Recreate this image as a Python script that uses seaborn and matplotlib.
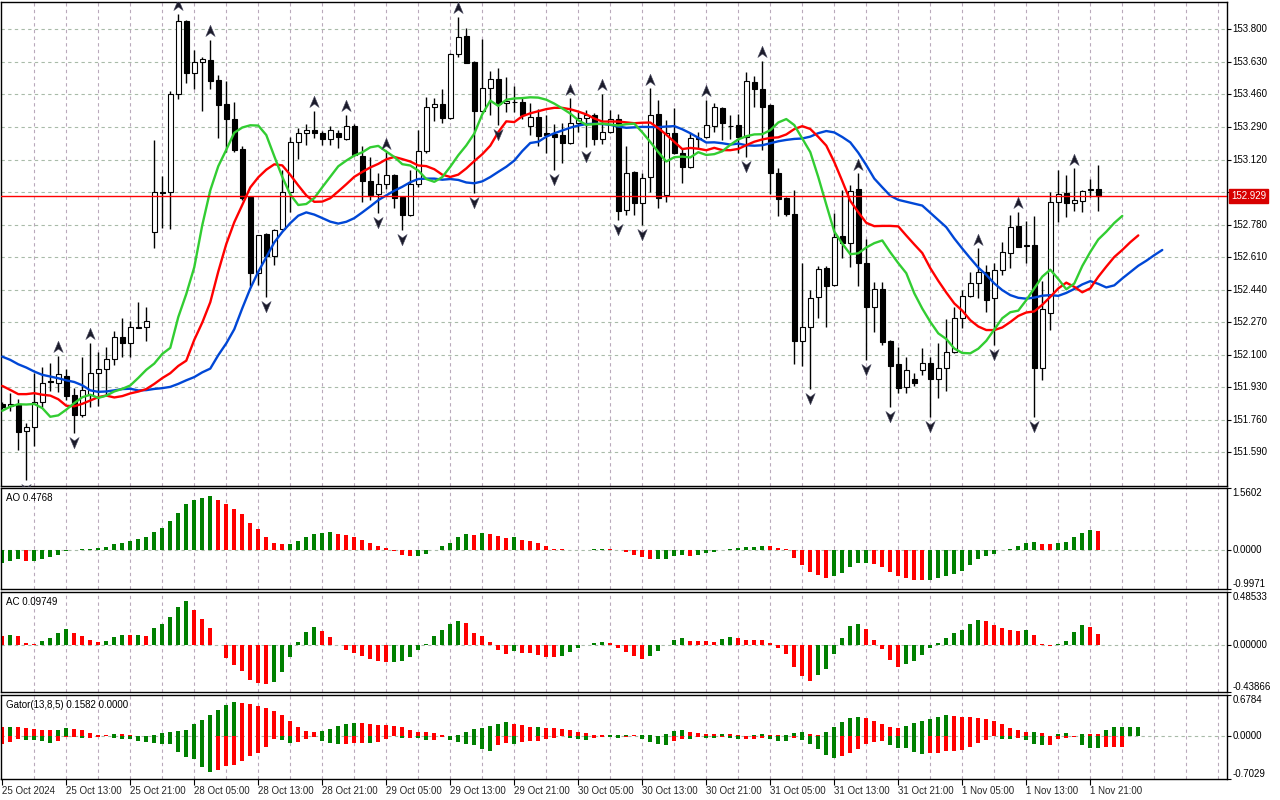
import numpy as np
import matplotlib
matplotlib.use('Agg')
import matplotlib.pyplot as plt
import seaborn as sns
from matplotlib.path import Path
from matplotlib.transforms import blended_transform_factory

sns.set_theme(style='white')
plt.rcParams['font.family'] = ['Liberation Sans', 'DejaVu Sans']

# ---------------- data (hourly bars) ----------------
opens = [151.843, 151.833, 151.840, 151.699, 151.720, 151.855, 151.963, 151.954, 151.989, 151.890,
         151.786, 151.890, 152.003, 152.024, 152.076, 152.191, 152.160, 152.247, 152.243, 152.740,
         152.948, 152.948, 153.460, 153.844, 153.570, 153.629, 153.640, 153.535, 153.408, 153.332,
         153.175, 152.926, 152.529, 152.729, 152.616, 152.759, 152.948, 153.210, 153.257, 153.272,
         153.257, 153.225, 153.257, 153.225, 153.297, 153.138, 153.008, 152.938, 152.990, 153.039,
         152.926, 152.830, 152.990, 153.164, 153.396, 153.408, 153.335, 153.669, 153.765, 153.631,
         153.375, 153.492, 153.542, 153.414, 153.419, 153.422, 153.297, 153.340, 153.257, 153.255,
         153.248, 153.208, 153.309, 153.335, 153.353, 153.225, 153.266, 153.332, 152.856, 153.056,
         152.891, 153.030, 153.358, 152.935, 153.257, 153.152, 153.079, 153.225, 153.239, 153.295,
         153.387, 153.297, 153.298, 153.239, 153.527, 153.488, 153.405, 153.048, 152.917, 152.834,
         152.172, 152.243, 152.400, 152.555, 152.463, 152.721, 152.686, 152.964, 152.578, 152.348,
         152.442, 152.172, 152.050, 151.930, 151.972, 152.021, 152.055, 151.972, 152.029, 152.113,
         152.294, 152.409, 152.477, 152.534, 152.395, 152.543, 152.633, 152.773, 152.672, 152.674,
         152.029, 152.320, 152.896, 152.947, 152.891, 152.905, 152.961, 152.964]
highs = [151.855, 151.899, 151.868, 151.742, 152.003, 152.038, 152.055, 152.093, 152.024, 151.925,
         152.090, 152.163, 152.116, 152.142, 152.226, 152.291, 152.278, 152.374, 152.351, 153.222,
         153.034, 153.478, 153.880, 153.849, 153.692, 153.654, 153.744, 153.561, 153.530, 153.422,
         153.191, 152.930, 152.728, 152.734, 152.759, 153.065, 153.236, 153.283, 153.305, 153.373,
         153.269, 153.295, 153.274, 153.353, 153.304, 153.191, 153.131, 153.048, 153.158, 153.044,
         152.930, 153.065, 153.274, 153.448, 153.440, 153.487, 153.675, 153.866, 153.805, 153.635,
         153.750, 153.582, 153.596, 153.553, 153.504, 153.448, 153.413, 153.382, 153.353, 153.305,
         153.312, 153.440, 153.370, 153.379, 153.361, 153.462, 153.379, 153.358, 153.191, 153.062,
         153.048, 153.492, 153.431, 153.326, 153.387, 153.173, 153.257, 153.266, 153.431, 153.413,
         153.393, 153.353, 153.358, 153.579, 153.556, 153.635, 153.410, 153.074, 152.923, 152.961,
         152.578, 152.438, 152.564, 152.564, 152.839, 152.961, 152.987, 153.048, 152.703, 152.482,
         152.482, 152.177, 152.142, 152.090, 152.007, 152.133, 152.090, 152.160, 152.285, 152.348,
         152.438, 152.534, 152.656, 152.569, 152.578, 152.691, 152.830, 152.848, 152.801, 152.825,
         152.486, 152.952, 153.065, 153.039, 153.074, 152.961, 153.017, 153.091]
lows = [151.815, 151.808, 151.603, 151.446, 151.623, 151.826, 151.913, 151.907, 151.864, 151.690,
        151.777, 151.829, 151.833, 151.882, 152.046, 152.090, 152.090, 152.238, 152.173, 152.660,
        152.764, 152.757, 153.434, 153.521, 153.488, 153.375, 153.488, 153.231, 153.161, 153.161,
        152.909, 152.459, 152.464, 152.404, 152.568, 152.752, 152.848, 153.122, 153.196, 153.231,
        153.196, 153.196, 153.179, 153.222, 153.138, 152.896, 152.909, 152.842, 152.964, 152.869,
        152.752, 152.825, 152.978, 153.152, 153.323, 153.312, 153.330, 153.654, 153.622, 152.943,
        153.370, 153.353, 153.300, 153.370, 153.370, 153.330, 153.248, 153.191, 153.152, 153.065,
        153.100, 153.199, 153.266, 153.187, 153.196, 153.200, 153.260, 152.804, 152.830, 152.830,
        152.778, 152.951, 152.865, 152.900, 153.149, 152.999, 153.074, 153.179, 153.231, 153.266,
        153.222, 153.225, 153.156, 153.135, 153.393, 153.170, 152.940, 152.825, 152.825, 152.050,
        152.043, 151.920, 152.294, 152.243, 152.459, 152.603, 152.560, 152.459, 152.072, 152.221,
        152.151, 151.826, 151.899, 151.902, 151.934, 151.995, 151.777, 151.873, 151.913, 152.108,
        152.238, 152.404, 152.395, 152.325, 152.151, 152.517, 152.552, 152.661, 152.578, 151.777,
        151.968, 152.230, 152.796, 152.822, 152.853, 152.848, 152.926, 152.853]
closes = [151.826, 151.843, 151.698, 151.721, 151.855, 151.951, 151.958, 151.998, 151.885, 151.786,
          151.916, 152.003, 152.024, 152.076, 152.191, 152.160, 152.243, 152.242, 152.278, 152.949,
          152.947, 153.460, 153.844, 153.570, 153.629, 153.643, 153.532, 153.405, 153.330, 153.170,
          152.921, 152.529, 152.724, 152.616, 152.752, 152.949, 153.210, 153.257, 153.272, 153.257,
          153.225, 153.272, 153.236, 153.297, 153.143, 153.008, 152.935, 152.990, 153.039, 152.921,
          152.830, 152.990, 153.164, 153.393, 153.408, 153.335, 153.669, 153.758, 153.626, 153.375,
          153.492, 153.542, 153.410, 153.426, 153.420, 153.353, 153.344, 153.243, 153.246, 153.239,
          153.208, 153.309, 153.335, 153.353, 153.225, 153.266, 153.330, 152.851, 153.051, 152.891,
          153.025, 153.353, 152.921, 153.257, 153.152, 153.079, 153.231, 153.234, 153.298, 153.393,
          153.312, 153.293, 153.236, 153.530, 153.487, 153.396, 153.048, 152.912, 152.834, 152.172,
          152.247, 152.395, 152.546, 152.459, 152.714, 152.682, 152.957, 152.581, 152.351, 152.442,
          152.169, 152.043, 151.928, 152.021, 151.951, 152.055, 151.972, 152.029, 152.113, 152.294,
          152.409, 152.477, 152.534, 152.386, 152.543, 152.639, 152.769, 152.665, 152.668, 152.033,
          152.338, 152.900, 152.938, 152.891, 152.909, 152.957, 152.964, 152.929]

# Alligator line values (before the first visible bar's data takes over)
jaw_start = [152.090, 152.073, 152.050, 152.033, 152.012, 151.995, 151.986, 151.977]
teeth_start = [151.937, 151.916, 151.894, 151.894, 151.899]
lips_start = [151.807, 151.829, 151.841]

fractal_up = [7, 11, 22, 26, 39, 43, 48, 57, 71, 75, 81, 88, 95, 107, 122, 127, 134]
fractal_down = [3, 9, 33, 47, 50, 59, 62, 69, 73, 77, 80, 93, 101, 108, 111, 116, 124, 129]

ao_values = [-0.34, -0.29, -0.25, -0.30, -0.29, -0.25, -0.19, -0.13, -0.03, -0.01,
             0.005, 0.02, 0.03, 0.06, 0.13, 0.18, 0.21, 0.27, 0.31, 0.44,
             0.55, 0.72, 0.93, 1.15, 1.26, 1.31, 1.36, 1.26, 1.16, 1.04,
             0.91, 0.68, 0.51, 0.33, 0.18, 0.13, 0.15, 0.23, 0.33, 0.40,
             0.43, 0.45, 0.40, 0.38, 0.33, 0.25, 0.18, 0.10, 0.03, -0.03,
             -0.13, -0.165, -0.155, -0.10, -0.02, 0.08, 0.18, 0.31, 0.40, 0.38,
             0.43, 0.40, 0.35, 0.305, 0.31, 0.25, 0.21, 0.16, 0.08, 0.025,
             0.005, -0.003, -0.002, 0.0, 0.01, 0.025, 0.02, -0.01, -0.07, -0.13,
             -0.19, -0.25, -0.23, -0.225, -0.15, -0.13, -0.15, -0.13, -0.075, -0.05,
             -0.01, 0.01, 0.05, 0.055, 0.075, 0.10, 0.095, 0.05, 0.01, -0.20,
             -0.38, -0.56, -0.63, -0.73, -0.68, -0.58, -0.43, -0.35, -0.33, -0.355,
             -0.43, -0.56, -0.66, -0.71, -0.76, -0.78, -0.76, -0.73, -0.68, -0.61,
             -0.53, -0.38, -0.25, -0.15, -0.10, -0.005, 0.02, 0.10, 0.18, 0.20,
             0.15, 0.13, 0.18, 0.20, 0.33, 0.43, 0.505, 0.4768]
ac_values = [0.083, 0.09, 0.083, 0.015, 0.006, 0.034, 0.062, 0.11, 0.145, 0.108,
             0.08, 0.043, 0.025, 0.034, 0.071, 0.09, 0.088, 0.09, 0.08, 0.154,
             0.19, 0.256, 0.35, 0.40, 0.32, 0.24, 0.154, -0.003, -0.123, -0.19,
             -0.244, -0.327, -0.355, -0.364, -0.346, -0.253, -0.114, 0.025, 0.117, 0.164,
             0.127, 0.071, -0.003, -0.05, -0.077, -0.105, -0.133, -0.151, -0.162, -0.158,
             -0.15, -0.114, -0.05, 0.005, 0.08, 0.136, 0.19, 0.22, 0.20, 0.108,
             0.08, 0.025, -0.05, -0.086, -0.059, -0.077, -0.078, -0.096, -0.114, -0.115,
             -0.105, -0.068, -0.03, 0.0, 0.015, 0.025, 0.015, -0.03, -0.068, -0.105,
             -0.133, -0.105, -0.059, -0.003, 0.043, 0.062, 0.036, 0.030, 0.028, 0.026,
             0.05, 0.065, 0.06, 0.045, 0.044, 0.043, 0.015, -0.03, -0.086, -0.207,
             -0.29, -0.336, -0.28, -0.225, -0.086, 0.062, 0.173, 0.19, 0.145, 0.043,
             -0.037, -0.142, -0.207, -0.179, -0.151, -0.096, -0.028, 0.015, 0.062, 0.108,
             0.136, 0.19, 0.228, 0.219, 0.182, 0.154, 0.136, 0.127, 0.136, 0.09,
             0.006, -0.018, 0.003, 0.034, 0.117, 0.182, 0.164, 0.09749]

time_labels = ['25 Oct 2024', '25 Oct 13:00', '25 Oct 21:00', '28 Oct 05:00', '28 Oct 13:00',
               '28 Oct 21:00', '29 Oct 05:00', '29 Oct 13:00', '29 Oct 21:00', '30 Oct 05:00',
               '30 Oct 13:00', '30 Oct 21:00', '31 Oct 05:00', '31 Oct 13:00', '31 Oct 21:00',
               '1 Nov 05:00', '1 Nov 13:00', '1 Nov 21:00']
price_ticks = [153.800, 153.630, 153.460, 153.290, 153.120, 152.950, 152.780,
               152.610, 152.440, 152.270, 152.100, 151.930, 151.760, 151.590]
current_price = 152.929

# ---------------- derived series ----------------
o = np.array(opens); h = np.array(highs); l = np.array(lows); c = np.array(closes)
n = len(o)
xi = np.arange(n)
median = (h + l) / 2


def smma_line(start, period, med):
    vals = list(start)
    prev = start[-1]
    for m in med:
        prev = (prev * (period - 1) + m) / period
        vals.append(prev)
    return np.array(vals)


jaw = smma_line(jaw_start, 13, median)      # shifted 8
teeth = smma_line(teeth_start, 8, median)   # shifted 5
lips = smma_line(lips_start, 5, median)     # shifted 3
gator_up = np.abs(jaw[:len(teeth)] - teeth)
gator_dn = -np.abs(teeth[:len(lips)] - lips)

GREEN = '#008000'
RED = '#ff0000'


def trend_colors(vals, first, use_abs=False):
    v = np.abs(vals) if use_abs else np.asarray(vals)
    cols = [first]
    for i in range(1, len(v)):
        if v[i] > v[i - 1]:
            cols.append(GREEN)
        elif v[i] < v[i - 1]:
            cols.append(RED)
        else:
            cols.append(cols[-1])
    return cols


# ---------------- figure layout ----------------
W, H = 1280, 800
fig = plt.figure(figsize=(12.8, 8), dpi=100)
fig.patch.set_facecolor('white')


def make_axes(top, bottom, left=1, right=1227):
    return fig.add_axes([left / W, 1 - bottom / H, (right - left) / W, (bottom - top) / H])


ax_p = make_axes(2, 486)
ax_ao = make_axes(488, 589)
ax_ac = make_axes(592, 692)
ax_g = make_axes(695, 779)
axes = [ax_p, ax_ao, ax_ac, ax_g]

XMIN, XMAX = -0.16, 153.09
VGRID = '#b9a9bb'
HGRID = '#a9bba9'
FS = 7

for ax in axes:
    ax.set_facecolor('white')
    ax.set_xlim(XMIN, XMAX)
    for s in ax.spines.values():
        s.set_color('black')
        s.set_linewidth(1.0)
    for b in range(4, 153, 4):
        ax.axvline(b, color=VGRID, lw=0.8, ls=(0, (3, 3)), zorder=0)
    ax.tick_params(axis='y', left=False, right=True, labelleft=False, labelright=False,
                   length=3, width=0.8, color='black', direction='out')
    ax.tick_params(axis='x', bottom=False, labelbottom=False)
    ax.grid(False)

# ---------------- price panel ----------------
ax_p.set_ylim(151.414, 153.943)
for p in price_ticks:
    ax_p.axhline(p, color=HGRID, lw=0.8, ls=(0, (3, 3)), zorder=0)
ax_p.set_yticks(price_ticks)

ax_p.vlines(xi, l, h, color='black', lw=1.0, zorder=2)
bull = c >= o
body_bottom = np.minimum(o, c)
body_h = np.maximum(np.abs(c - o), 0.002)
ax_p.bar(xi, body_h, bottom=body_bottom, width=0.6,
         color=np.where(bull, 'white', 'black'), edgecolor='black', linewidth=0.8, zorder=3)

sns.lineplot(x=np.arange(len(jaw)), y=jaw, ax=ax_p, color='#0047d6', linewidth=1.7,
             estimator=None, sort=False, zorder=4)
sns.lineplot(x=np.arange(len(teeth)), y=teeth, ax=ax_p, color='#ff0000', linewidth=1.7,
             estimator=None, sort=False, zorder=4)
sns.lineplot(x=np.arange(len(lips)), y=lips, ax=ax_p, color='#32cd32', linewidth=1.7,
             estimator=None, sort=False, zorder=4)

up_path = Path([(0, 1), (0.75, -0.8), (0, -0.25), (-0.75, -0.8), (0, 1)],
               [Path.MOVETO, Path.LINETO, Path.LINETO, Path.LINETO, Path.CLOSEPOLY])
dn_path = Path([(0, -1), (0.75, 0.8), (0, 0.25), (-0.75, 0.8), (0, -1)],
               [Path.MOVETO, Path.LINETO, Path.LINETO, Path.LINETO, Path.CLOSEPOLY])
fu = np.array(fractal_up); fd = np.array(fractal_down)
ax_p.scatter(fu, h[fu] + 0.045, marker=up_path, s=80, color='#1b1b2a',
             edgecolors='#4a4a60', linewidths=0.4, zorder=5, clip_on=True)
ax_p.scatter(fd, l[fd] - 0.047, marker=dn_path, s=80, color='#1b1b2a',
             edgecolors='#4a4a60', linewidths=0.4, zorder=5, clip_on=True)

ax_p.axhline(current_price, color='#ff0000', lw=1.0, zorder=4.5)

tr_p = blended_transform_factory(ax_p.transAxes, ax_p.transData)
for p in price_ticks:
    # the 152.950 label sits underneath the current-price box, as in the terminal
    if abs(p - current_price) < 0.05:
        continue
    ax_p.text(1.0045, p, f'{p:.3f}', transform=tr_p, ha='left', va='center',
              fontsize=FS, color='black', clip_on=False)
ax_p.text(1.0032, current_price, f'{current_price:.3f}', transform=tr_p, ha='left', va='center',
          fontsize=FS, color='white', clip_on=False, zorder=10,
          bbox=dict(boxstyle='square,pad=0.22', fc='#d80000', ec='#d80000'))

# ---------------- AO panel ----------------
ax_ao.set_ylim(-0.9971, 1.5602)
ax_ao.axhline(0, color=HGRID, lw=0.8, ls=(0, (3, 3)), zorder=0)
ax_ao.bar(xi, ao_values, width=0.5, color=trend_colors(ao_values, GREEN), linewidth=0, zorder=2)
ax_ao.set_yticks([1.5602, 0.0, -0.9971])
ax_ao.text(5 / 1226, 1 - 5 / 101, 'AO 0.4768', transform=ax_ao.transAxes, ha='left', va='top',
           fontsize=FS, color='black')

# ---------------- AC panel ----------------
ax_ac.set_ylim(-0.43866, 0.48533)
ax_ac.axhline(0, color=HGRID, lw=0.8, ls=(0, (3, 3)), zorder=0)
ax_ac.bar(xi, ac_values, width=0.5, color=trend_colors(ac_values, RED), linewidth=0, zorder=2)
ax_ac.set_yticks([0.48533, 0.0, -0.43866])
ax_ac.text(5 / 1226, 1 - 5 / 100, 'AC 0.09749', transform=ax_ac.transAxes, ha='left', va='top',
           fontsize=FS, color='black')

# ---------------- Gator panel ----------------
ax_g.set_ylim(-0.7029, 0.6784)
ax_g.axhline(0, color=HGRID, lw=0.8, ls=(0, (3, 3)), zorder=0)
ax_g.bar(np.arange(len(gator_up)), gator_up, width=0.5,
         color=trend_colors(gator_up, RED), linewidth=0, zorder=2)
ax_g.bar(np.arange(len(gator_dn)), gator_dn, width=0.5,
         color=trend_colors(gator_dn, RED, use_abs=True), linewidth=0, zorder=2)
ax_g.set_yticks([0.6784, 0.0, -0.7029])
ax_g.text(5 / 1226, 1 - 5 / 84, 'Gator(13,8,5) 0.1582 0.0000', transform=ax_g.transAxes,
          ha='left', va='top', fontsize=FS, color='black')

sub_labels = [
    (ax_ao, [(1.5602, '1.5602', 'top'), (0.0, '0.0000', 'center'), (-0.9971, '-0.9971', 'bottom')]),
    (ax_ac, [(0.48533, '0.48533', 'top'), (0.0, '0.00000', 'center'), (-0.43866, '-0.43866', 'bottom')]),
    (ax_g, [(0.6784, '0.6784', 'top'), (0.0, '0.0000', 'center'), (-0.7029, '-0.7029', 'bottom')]),
]
for ax, items in sub_labels:
    tr = blended_transform_factory(ax.transAxes, ax.transData)
    for val, txt, va in items:
        ax.text(1.0045, val, txt, transform=tr, ha='left', va=va, fontsize=FS,
                color='black', clip_on=False)

# x labels
ax_g.tick_params(axis='x', bottom=True, labelbottom=True, length=4, width=0.8,
                 color='black', direction='out', pad=1, labelsize=FS)
ax_g.set_xticks(np.arange(0, 8 * len(time_labels), 8))
ax_g.set_xticklabels(time_labels, ha='left')
ax_g.set_xlim(XMIN, XMAX)
for ax in axes:
    ax.set_xlabel('')
    ax.set_ylabel('')

fig.savefig('out.png', dpi=100, facecolor='white')
